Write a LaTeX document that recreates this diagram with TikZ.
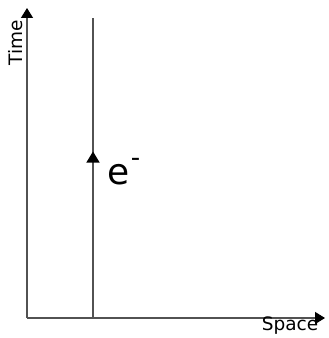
\documentclass[tikz,border=0pt]{standalone}
\usepackage{fontspec}
\setmainfont{DejaVu Sans}
\usetikzlibrary{arrows.meta,decorations.markings}
\tikzset{axis/.style={draw=black!68, line width=1.3pt, -{Triangle[length=10pt,width=12pt,black]}}}
\tikzset{worldline/.style={draw=black!68, line width=1.3pt,
  postaction={decorate}, decoration={markings,
  mark=at position 0.555 with {\arrow{Triangle[length=11pt,width=13pt,black]}}}}}
\tikzset{axislabel/.style={inner sep=0pt, font=\fontsize{18.5}{20}\selectfont}}

\begin{document}
\begin{tikzpicture}[x=1pt,y=1pt]
\useasboundingbox (0,0) rectangle (329,338);

\coordinate (origin) at (27,20);
\coordinate (timeend) at (27,330);
\coordinate (spaceend) at (325,20);
\coordinate (ebottom) at (93,20);
\coordinate (etop) at (93,320);

\draw[worldline] (ebottom) -- (etop);
\draw[axis] (origin) -- (timeend);
\draw[axis] (origin) -- (spaceend);

\node[axislabel, rotate=90] (timelabel) at (16,295.5) {Time};
\node[axislabel] (spacelabel) at (290,12) {Space};
\node[inner sep=0pt, anchor=base west, font=\fontsize{36}{38}\selectfont] (elabel) at (107.5,153) {e\kern1pt\raisebox{0.5em}{\fontsize{26}{26}\selectfont -}};
\end{tikzpicture}
\end{document}
